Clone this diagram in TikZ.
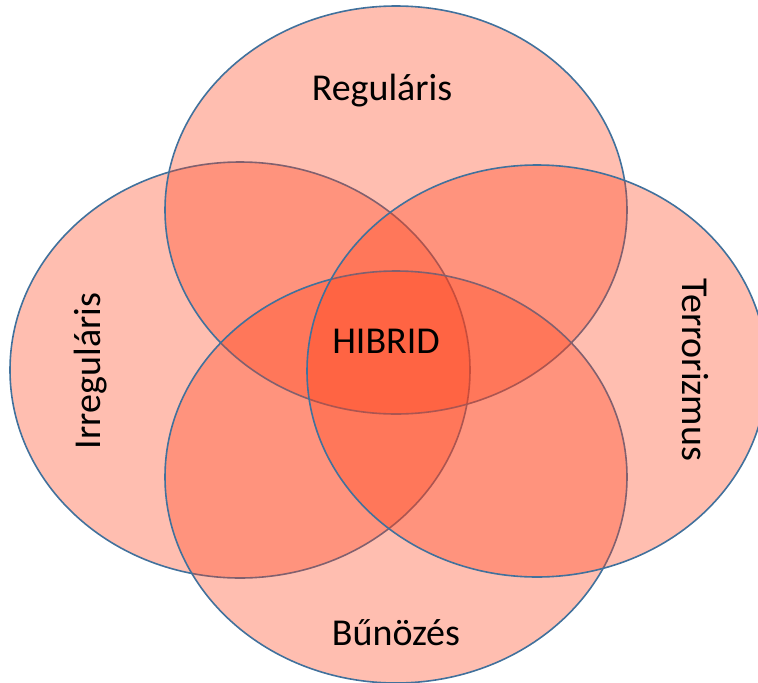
\documentclass[tikz,border=0pt]{standalone}
\usepackage{fontspec}
\setmainfont{Carlito}
\definecolor{vennfill}{RGB}{255,64,24}
\definecolor{vennline}{RGB}{65,113,156}
\begin{document}
\begin{tikzpicture}[x=1pt,y=1pt,
  venn/.style={fill=vennfill,fill opacity=0.34,draw=vennline,line width=1.6pt},
  lbl/.style={font=\fontsize{38}{40}\selectfont,text=black,inner sep=0pt,anchor=base}]
\useasboundingbox (0,0) rectangle (758,-683);
\begin{scope}
\clip (0,0) rectangle (758,-683);
\draw[venn] (240,-370) ellipse [x radius=230,y radius=208];
\draw[venn] (396,-210) ellipse [x radius=231,y radius=204];
\draw[venn] (396,-477) ellipse [x radius=231,y radius=206];
\draw[venn] (537,-371) ellipse [x radius=230,y radius=206];
\end{scope}
\node[lbl] (reg) at (382,-100) {Reguláris};
\node[lbl] (hib) at (386,-353) {HIBRID};
\node[lbl] (bun) at (396,-645) {Bűnözés};
\node[lbl,rotate=90] (irr) at (100,-371) {Irreguláris};
\node[lbl,rotate=-90] (ter) at (682,-370) {Terrorizmus};
\end{tikzpicture}
\end{document}
